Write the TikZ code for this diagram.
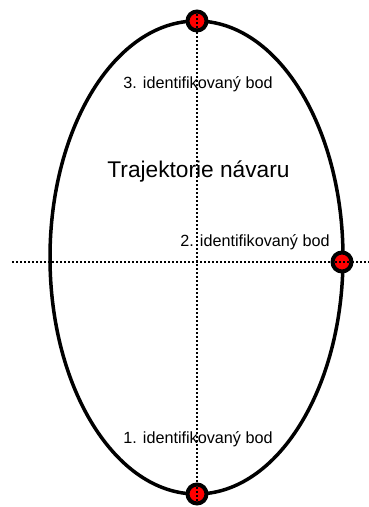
\documentclass[tikz,border=0pt]{standalone}
\usepackage{fontspec}
\setmainfont{Liberation Sans}
\begin{document}
\begin{tikzpicture}[x=1pt,y=-1pt,
  guide/.style={line width=1.8pt, dash pattern=on 1.8pt off 2.2pt},
  inner/.style={line width=1.6pt, dash pattern=on 1.6pt off 2.4pt, dash phase=0pt},
  path/.style={line width=3.5pt},
  point/.style={circle, draw=black, fill=red, line width=4pt, minimum size=19pt, inner sep=0pt},
  label/.style={font=\fontsize{16.2}{18}\selectfont, anchor=base, inner sep=0pt},
]
\useasboundingbox (0,0) rectangle (369,507);
% guide axes
\coordinate (vtop) at (197,12);
\coordinate (vbot) at (197,502);
\coordinate (hl) at (12,262);
\coordinate (hr) at (369,262);
\draw[guide] (vtop) -- (vbot);
\draw[guide] (hl) -- (hr);
% weld trajectory
\draw[path] (196.5,257.5) ellipse [x radius=146.5, y radius=236.5];
% identified points
\node[point] (p3) at (197,21) {};
\node[point] (p2) at (342,262) {};
\node[point] (p1) at (197,494) {};
\draw[inner] ([yshift=-6.8pt]p3.center) -- ([yshift=6.8pt]p3.center);
\draw[inner] ([yshift=-6.8pt]p1.center) -- ([yshift=6.8pt]p1.center);
\draw[inner] ([xshift=-6.8pt]p2.center) -- ([xshift=6.8pt]p2.center);
% labels
\node[label] (t3) at (198,88.5) {3. identifikovaný bod};
\node[label] (t2) at (255,246) {2. identifikovaný bod};
\node[label] (t1) at (198,443.5) {1. identifikovaný bod};
\node[label, font=\fontsize{22.7}{26}\selectfont] (tt) at (198.5,177) {Trajektorie návaru};
\end{tikzpicture}
\end{document}
